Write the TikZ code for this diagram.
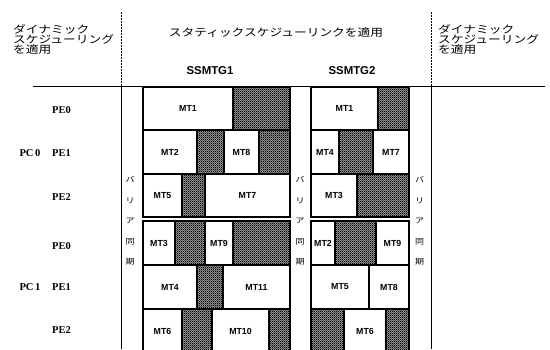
\documentclass[tikz,border=0pt]{standalone}
\usepackage{fontspec}
\setmainfont{Liberation Serif}
\newfontfamily\jpfont[FakeStretch=1.2]{Noto Sans CJK JP}
\newfontfamily\mtfont{Liberation Sans}
\usetikzlibrary{patterns.meta}
\tikzdeclarepattern{
  name=finecheck,
  type=uncolored,
  bounding box={(0pt,0pt) and (2.2pt,2.2pt)},
  tile size={(2.2pt,2.2pt)},
  code={
    \fill (0pt,0pt) rectangle (1.1pt,1.1pt);
    \fill (1.1pt,1.1pt) rectangle (2.2pt,2.2pt);
  }
}
\newcommand\mtcell[7]{%
  \pgfmathsetmacro\cellw{#3-#2}%
  \pgfmathsetmacro\cellh{#5-#4}%
  \node[#6, minimum width=\cellw pt, minimum height=\cellh pt] (#1) at ({(#2+#3)/2},{(#4+#5)/2}) {#7};}
\begin{document}
\begin{tikzpicture}[x=1pt,y=-1pt,
  cell/.style={draw, line width=1.1pt, inner sep=0pt, outer sep=0pt,
    font=\mtfont\bfseries\fontsize{8.8}{9}\selectfont},
  hatch/.style={cell, preaction={fill=black!40}, pattern=finecheck, pattern color=black},
  jptext/.style={font=\jpfont\fontsize{10.6}{10.4}\selectfont, inner sep=0pt, align=left},
  barrier/.style={font=\jpfont\fontsize{7.5}{20.5}\selectfont, inner sep=0pt, align=center},
  rowlabel/.style={font=\bfseries\fontsize{10.5}{11}\selectfont, inner sep=0pt},
  title/.style={font=\mtfont\bfseries\fontsize{11.4}{12}\selectfont, inner sep=0pt},
  divider/.style={line width=1pt, dash pattern=on 2pt off 1pt},
  solidline/.style={line width=0.9pt}]
\useasboundingbox (0,0) rectangle (550,349);
\clip (0,0) rectangle (550,349);

% frame lines
\coordinate (lt) at (121.5,12);
\coordinate (lm) at (121.5,86);
\coordinate (lb) at (121.5,349);
\coordinate (rt) at (431,12);
\coordinate (rm) at (431,86);
\coordinate (rb) at (431,349);
\coordinate (hl) at (33,86);
\coordinate (hr) at (545,86);
\draw[divider] (lt) -- (lm);
\draw[divider] (rt) -- (rm);
\draw[solidline] (lm) -- (lb);
\draw[solidline] (rm) -- (rb);
\draw[line width=0.8pt] (hl) -- (hr);

% headers
\node[jptext, anchor=north west] (dynL) at (13,24) {ダイナミック\\スケジューリング\\を適用};
\node[jptext, anchor=north west] (dynR) at (438,24) {ダイナミック\\スケジューリング\\を適用};
\node[jptext] (stat) at (276,32) {スタティックスケジューリンクを適用};
\node[title] (g1) at (210,71) {SSMTG1};
\node[title] (g2) at (352,71) {SSMTG2};

% row labels
\node[rowlabel] (pe0a) at (61.5,110) {PE0};
\node[rowlabel] (pe1a) at (61.5,153) {PE1};
\node[rowlabel] (pe2a) at (61.5,197) {PE2};
\node[rowlabel] (pe0b) at (61.5,246) {PE0};
\node[rowlabel] (pe1b) at (61.5,287) {PE1};
\node[rowlabel] (pe2b) at (61.5,330) {PE2};
\node[rowlabel] (pc0) at (30,153) {PC\,0};
\node[rowlabel] (pc1) at (30,287) {PC\,1};

% barrier texts
\node[barrier] (bar1) at (130,221) {バ\\リ\\ア\\同\\期};
\node[barrier] (bar2) at (300,221) {バ\\リ\\ア\\同\\期};
\node[barrier] (bar3) at (419.5,221) {バ\\リ\\ア\\同\\期};

% SSMTG1
\mtcell{a11}{143}{233}{87}{130}{cell}{MT1}
\mtcell{a12}{233}{290}{87}{130}{hatch}{}
\mtcell{a21}{143}{197}{130}{174}{cell}{MT2}
\mtcell{a22}{197}{224}{130}{174}{hatch}{}
\mtcell{a23}{224}{259}{130}{174}{cell}{MT8}
\mtcell{a24}{259}{290}{130}{174}{hatch}{}
\mtcell{a31}{143}{182}{174}{217}{cell}{MT5}
\mtcell{a32}{182}{205}{174}{217}{hatch}{}
\mtcell{a33}{205}{290}{174}{217}{cell}{MT7}
\mtcell{a41}{143}{175}{221}{265}{cell}{MT3}
\mtcell{a42}{175}{205}{221}{265}{hatch}{}
\mtcell{a43}{205}{233}{221}{265}{cell}{MT9}
\mtcell{a44}{233}{290}{221}{265}{hatch}{}
\mtcell{a51}{143}{197}{265}{309}{cell}{MT4}
\mtcell{a52}{197}{223}{265}{309}{hatch}{}
\mtcell{a53}{223}{290}{265}{309}{cell}{MT11}
\mtcell{a61}{143}{182}{309}{353}{cell}{MT6}
\mtcell{a62}{182}{212}{309}{353}{hatch}{}
\mtcell{a63}{212}{269}{309}{353}{cell}{MT10}
\mtcell{a64}{269}{290}{309}{353}{hatch}{}

% SSMTG2
\mtcell{b11}{311}{378}{87}{130}{cell}{MT1}
\mtcell{b12}{378}{409}{87}{130}{hatch}{}
\mtcell{b21}{311}{339}{130}{174}{cell}{MT4}
\mtcell{b22}{339}{373}{130}{174}{hatch}{}
\mtcell{b23}{373}{409}{130}{174}{cell}{MT7}
\mtcell{b31}{311}{357}{174}{217}{cell}{MT3}
\mtcell{b32}{357}{409}{174}{217}{hatch}{}
\mtcell{b41}{311}{335}{221}{265}{cell}{MT2}
\mtcell{b42}{335}{376}{221}{265}{hatch}{}
\mtcell{b43}{376}{409}{221}{265}{cell}{MT9}
\mtcell{b51}{311}{369}{265}{309}{cell}{MT5}
\mtcell{b52}{369}{409}{265}{309}{cell}{MT8}
\mtcell{b61}{311}{344}{309}{353}{hatch}{}
\mtcell{b62}{344}{386}{309}{353}{cell}{MT6}
\mtcell{b63}{386}{409}{309}{353}{hatch}{}
\end{tikzpicture}
\end{document}
